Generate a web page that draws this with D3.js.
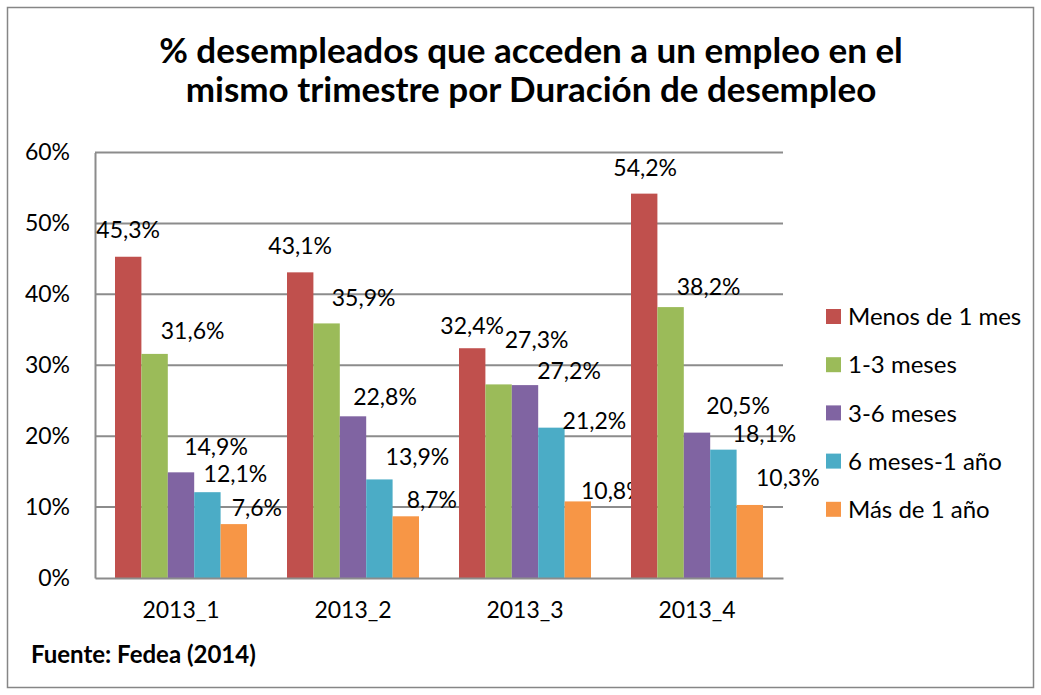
<!DOCTYPE html>
<html>
<head>
<meta charset="utf-8">
<script src="https://cdn.jsdelivr.net/npm/d3@7"></script>
<style>
  body { margin: 0; background: #fff; }
  svg { display: block; font-family: Lato, "Open Sans", sans-serif; }
</style>
</head>
<body>
<svg id="chart" width="1041" height="695"></svg>
<script>
// data
var categories = ['2013_1', '2013_2', '2013_3', '2013_4'];
var seriesNames = ['Menos de 1 mes', '1-3 meses', '3-6 meses', '6 meses-1 año', 'Más de 1 año'];
var menos1mes = [45.3, 43.1, 32.4, 54.2];
var meses1a3 = [31.6, 35.9, 27.3, 38.2];
var meses3a6 = [14.9, 22.8, 27.2, 20.5];
var meses6a1ano = [12.1, 13.9, 21.2, 18.1];
var mas1ano = [7.6, 8.7, 10.8, 10.3];
var yTicks = [0, 10, 20, 30, 40, 50, 60];

var seriesValues = [menos1mes, meses1a3, meses3a6, meses6a1ano, mas1ano];
var colors = ['#C0504D', '#9BBB59', '#8064A2', '#4BACC6', '#F79646'];

// label nudges (the labels were moved by hand in the original), [category][series]
var labelDx = [
  [0, 38, 35, 28, 23],
  [0, 37, 32, 38, 26],
  [0, 38, 44, 43, 35],
  [1, 38, 41, 41, 38]
];
var labelDy = [
  [-27, -23, -26, -18, -16],
  [-27, -26, -20, -23, -17],
  [-23, -45, -14, -7, -11],
  [-26, -20, -27, -16, -27]
];

var svg = d3.select('#chart');
var plotLeft = 95, plotRight = 783, plotTop = 152.5, plotBottom = 578;

// outer frame
svg.append('rect')
  .attr('x', 7.5).attr('y', 7.5)
  .attr('width', 1026).attr('height', 680)
  .attr('fill', 'none')
  .attr('stroke', '#868686')
  .attr('stroke-width', 1.5);

// title
var title = svg.append('text')
  .attr('text-anchor', 'middle')
  .attr('font-weight', 'bold')
  .attr('font-size', 35)
  .attr('fill', '#000');
title.append('tspan').attr('x', 531).attr('y', 63).text('% desempleados que acceden a un empleo en el');
title.append('tspan').attr('x', 531).attr('y', 102).text('mismo trimestre por Duración de desempleo');

var x0 = d3.scaleBand().domain(categories).range([plotLeft, plotRight]).paddingInner(0).paddingOuter(0);
var x1 = d3.scaleBand().domain(d3.range(seriesNames.length))
  .range([20, x0.bandwidth() - 20]);
var y = d3.scaleLinear().domain([0, 60]).range([plotBottom, plotTop]);

// gridlines
svg.append('g')
  .selectAll('line')
  .data(yTicks.slice(1))
  .enter()
  .append('line')
  .attr('x1', plotLeft).attr('x2', plotRight)
  .attr('y1', function (d) { return y(d); })
  .attr('y2', function (d) { return y(d); })
  .attr('stroke', '#8c8c8c')
  .attr('stroke-width', 2);

// y axis
var yAxis = svg.append('g')
  .attr('transform', 'translate(' + plotLeft + ',0)')
  .call(d3.axisLeft(y).tickValues(yTicks).tickSize(0).tickPadding(25)
    .tickFormat(function (d) { return d + '%'; }));
yAxis.select('.domain').attr('stroke', '#8c8c8c').attr('stroke-width', 2);
yAxis.selectAll('text')
  .attr('font-size', 23)
  .attr('font-family', 'Lato, sans-serif')
  .attr('fill', '#000');

// bars
var groups = svg.append('g')
  .selectAll('g')
  .data(categories)
  .enter()
  .append('g')
  .attr('transform', function (c) { return 'translate(' + x0(c) + ',0)'; });

groups.selectAll('rect')
  .data(function (c, ci) {
    return seriesValues.map(function (vals, si) { return { si: si, ci: ci, v: vals[ci] }; });
  })
  .enter()
  .append('rect')
  .attr('x', function (d) { return x1(d.si); })
  .attr('width', x1.bandwidth())
  .attr('y', function (d) { return y(d.v); })
  .attr('height', function (d) { return plotBottom - y(d.v); })
  .attr('fill', function (d) { return colors[d.si]; });

// x axis
var xAxis = svg.append('g')
  .attr('transform', 'translate(0,' + plotBottom + ')')
  .call(d3.axisBottom(x0).tickSize(0).tickPadding(24));
xAxis.select('.domain').attr('stroke', '#8c8c8c').attr('stroke-width', 2);
xAxis.selectAll('text')
  .attr('font-size', 23)
  .attr('font-family', 'Lato, sans-serif')
  .attr('fill', '#000');

// value labels
groups.selectAll('text.val')
  .data(function (c, ci) {
    return seriesValues.map(function (vals, si) { return { si: si, ci: ci, v: vals[ci] }; });
  })
  .enter()
  .append('text')
  .attr('class', 'val')
  .attr('x', function (d) { return x1(d.si) + x1.bandwidth() / 2 + labelDx[d.ci][d.si]; })
  .attr('y', function (d) { return y(d.v) + labelDy[d.ci][d.si]; })
  .attr('dy', '0.36em')
  .attr('text-anchor', 'middle')
  .attr('font-size', 23)
  .attr('fill', '#000')
  .text(function (d) { return d.v.toFixed(1).replace('.', ',') + '%'; });

// legend
var legend = svg.append('g')
  .selectAll('g')
  .data(seriesNames)
  .enter()
  .append('g')
  .attr('transform', function (d, i) { return 'translate(826,' + (316.5 + i * 48.2) + ')'; });
legend.append('rect')
  .attr('x', 0).attr('y', -7.5)
  .attr('width', 15).attr('height', 15)
  .attr('fill', function (d, i) { return colors[i]; });
legend.append('text')
  .attr('x', 22).attr('dy', '0.36em')
  .attr('font-size', 24)
  .attr('fill', '#000')
  .text(function (d) { return d; });

// source
svg.append('text')
  .attr('x', 31).attr('y', 663)
  .attr('font-weight', 'bold')
  .attr('font-size', 24)
  .attr('fill', '#000')
  .text('Fuente: Fedea (2014)');
</script>
</body>
</html>
